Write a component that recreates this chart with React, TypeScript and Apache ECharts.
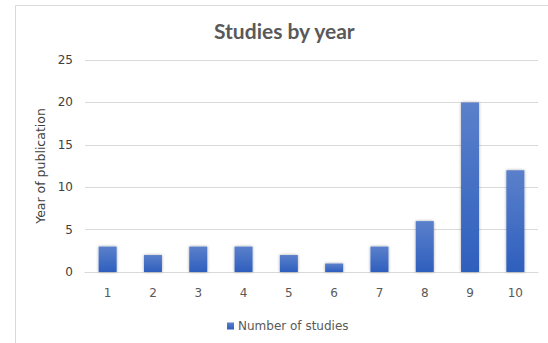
import React, { useEffect, useRef } from "react";
import * as echarts from "echarts";

const categories = ["1", "2", "3", "4", "5", "6", "7", "8", "9", "10"];
const studies = [3, 2, 3, 3, 2, 1, 3, 6, 20, 12];
const seriesName = "Number of studies";
const titleText = "Studies by year";
const yAxisName = "Year of publication";

export default function App() {
  const ref = useRef<HTMLDivElement>(null);
  useEffect(() => {
    if (!ref.current) return;
    const chart = echarts.init(ref.current, null, { renderer: "svg" });
    const font = "'DejaVu Sans', sans-serif";
    chart.setOption({
      animation: false,
      backgroundColor: "#ffffff",
      graphic: [
        {
          type: "rect",
          shape: { x: 15.5, y: 5.5, width: 600, height: 400 },
          style: { fill: "none", stroke: "#d9d9d9", lineWidth: 1 },
          silent: true,
          z: -1,
        },
      ],
      title: {
        text: titleText,
        left: 209,
        top: 15,
        textStyle: {
          fontFamily: "Lato, sans-serif",
          fontWeight: "bold",
          fontSize: 21,
          color: "#595959",
        },
      },
      legend: {
        data: [seriesName],
        left: 222,
        top: 315,
        itemWidth: 7,
        itemHeight: 7,
        itemGap: 4,
        icon: "rect",
        textStyle: { fontFamily: font, fontSize: 12, color: "#595959", padding: [0, 0, 0, -1] },
      },
      grid: { left: 85, right: 10, top: 60, bottom: 71 },
      xAxis: {
        type: "category",
        data: categories,
        axisLine: { lineStyle: { color: "#d9d9d9" } },
        axisTick: { show: false },
        axisLabel: { fontFamily: font, fontSize: 12, color: "#595959", margin: 15 },
      },
      yAxis: {
        type: "value",
        min: 0,
        max: 25,
        interval: 5,
        name: yAxisName,
        nameLocation: "middle",
        nameGap: 31,
        nameTextStyle: { fontFamily: font, fontSize: 12.5, color: "#404040" },
        axisLine: { show: false },
        axisTick: { show: false },
        splitLine: { lineStyle: { color: "#d9d9d9" } },
        axisLabel: { fontFamily: font, fontSize: 12, color: "#404040", margin: 12 },
      },
      series: [
        {
          name: seriesName,
          type: "bar",
          data: studies,
          barWidth: 18,
          itemStyle: {
            color: new echarts.graphic.LinearGradient(0, 0, 0, 1, [
              { offset: 0, color: "#5b80cb" },
              { offset: 1, color: "#2e5fbd" },
            ]),
            shadowColor: "rgba(0,0,0,0.35)",
            shadowBlur: 3,
            shadowOffsetX: 0,
            shadowOffsetY: 0,
          },
        },
      ],
    });
    return () => chart.dispose();
  }, []);
  return (
    <div
      ref={ref}
      style={{ position: "absolute", left: 0, top: 0, width: 548, height: 343 }}
    />
  );
}
